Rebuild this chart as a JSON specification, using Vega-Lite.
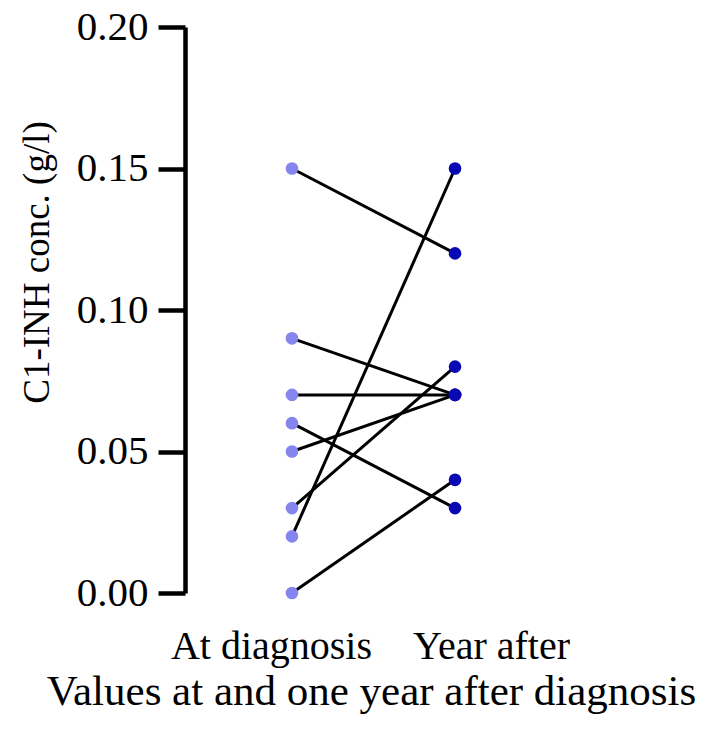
{
  "$schema": "https://vega.github.io/schema/vega-lite/v6.json",
  "width": 377,
  "height": 566,
  "autosize": "none",
  "padding": {"left": 185, "top": 27, "right": 147, "bottom": 144},
  "background": "white",
  "config": {"view": {"stroke": null}, "font": "Liberation Serif"},
  "data": {
    "values": [
      {"id": 1, "time": "At diagnosis", "value": 0.15},
      {"id": 1, "time": "Year after", "value": 0.12},
      {"id": 2, "time": "At diagnosis", "value": 0.09},
      {"id": 2, "time": "Year after", "value": 0.07},
      {"id": 3, "time": "At diagnosis", "value": 0.07},
      {"id": 3, "time": "Year after", "value": 0.07},
      {"id": 4, "time": "At diagnosis", "value": 0.06},
      {"id": 4, "time": "Year after", "value": 0.03},
      {"id": 5, "time": "At diagnosis", "value": 0.05},
      {"id": 5, "time": "Year after", "value": 0.07},
      {"id": 6, "time": "At diagnosis", "value": 0.03},
      {"id": 6, "time": "Year after", "value": 0.08},
      {"id": 7, "time": "At diagnosis", "value": 0.02},
      {"id": 7, "time": "Year after", "value": 0.15},
      {"id": 8, "time": "At diagnosis", "value": 0.0},
      {"id": 8, "time": "Year after", "value": 0.04}
    ]
  },
  "encoding": {
    "x": {
      "field": "time",
      "type": "nominal",
      "sort": ["At diagnosis", "Year after"],
      "scale": {"type": "point", "padding": 0.656},
      "axis": {
        "title": "Values at and one year after diagnosis",
        "labelAngle": 0,
        "domain": false,
        "ticks": false,
        "tickSize": 0,
        "labelLimit": 0,
        "labelOverlap": false,
        "labelOffset": {"expr": "datum.value === 'At diagnosis' ? -21 : 36"},
        "labelFont": "Liberation Serif",
        "labelFontSize": 40,
        "labelColor": "black",
        "labelBaseline": "alphabetic",
        "labelPadding": 65,
        "titleFont": "Liberation Serif",
        "titleFontSize": 43,
        "titleFontWeight": "normal",
        "titleColor": "black",
        "titleBaseline": "alphabetic",
        "titleAlign": "center",
        "titleX": 186,
        "titleY": 111
      }
    },
    "y": {
      "field": "value",
      "type": "quantitative",
      "scale": {"domain": [0, 0.2], "nice": false, "zero": true},
      "axis": {
        "title": "C1-INH conc. (g/l)",
        "values": [0, 0.05, 0.1, 0.15, 0.2],
        "format": ".2f",
        "grid": false,
        "domainColor": "black",
        "domainWidth": 4.5,
        "tickColor": "black",
        "tickWidth": 4.5,
        "tickSize": 27,
        "labelPadding": 10,
        "labelFont": "Liberation Serif",
        "labelFontSize": 41,
        "labelColor": "black",
        "titleFont": "Liberation Serif",
        "titleFontSize": 37,
        "titleFontWeight": "normal",
        "titleColor": "black",
        "titleAngle": 270,
        "titleAlign": "center",
        "titleBaseline": "middle",
        "titleX": -148,
        "titleY": 235
      }
    }
  },
  "layer": [
    {
      "mark": {"type": "line", "color": "black", "strokeWidth": 3, "clip": false},
      "encoding": {"detail": {"field": "id", "type": "nominal"}}
    },
    {
      "mark": {"type": "circle", "opacity": 1, "size": 160, "clip": false},
      "encoding": {
        "color": {
          "field": "time",
          "type": "nominal",
          "scale": {"domain": ["At diagnosis", "Year after"], "range": ["#8585ee", "#0808b4"]},
          "legend": null
        }
      }
    }
  ]
}
